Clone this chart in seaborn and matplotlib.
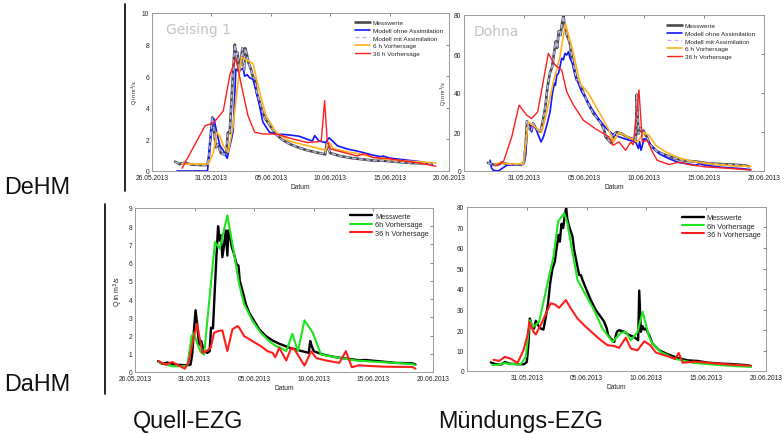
import matplotlib
matplotlib.use("Agg")
import matplotlib.pyplot as plt
from matplotlib.lines import Line2D
import seaborn as sns

# Zeit in Tagen ab 26.05.2013 00:00
tick_days = [0, 5, 10, 15, 20, 25]
tick_labels = ["26.05.2013", "31.05.2013", "05.06.2013", "10.06.2013", "15.06.2013", "20.06.2013"]

# ---------- Geising 1 (Quell-EZG) ----------
gei_t = [1.94, 2.3, 2.7, 3.4, 4.38, 4.66, 4.8, 4.94, 5.08, 5.22, 5.37, 5.56, 5.79, 6.07, 6.26, 6.38,
         6.54, 6.69, 6.83, 6.97, 7.1, 7.2, 7.33, 7.47, 7.61, 7.75, 7.84, 7.98, 8.12, 8.31, 8.51, 8.68,
         8.79, 9.02, 9.3, 9.58, 10.0, 10.42, 10.98, 11.54, 12.1, 12.97, 13.8, 14.58, 14.7, 14.83, 15.0,
         15.75, 16.86, 17.97, 18.8, 19.3, 20.47, 21.86, 23.25, 23.53]
gei_mess = [0.59, 0.44, 0.52, 0.40, 0.37, 0.40, 0.96, 2.25, 3.39, 2.6, 1.5, 1.7, 1.14, 1.05, 1.14, 2.43,
            2.4, 4.46, 6.3, 8.0, 7.2, 7.5, 6.3, 6.94, 7.77, 6.39, 7.77, 7.4, 6.85, 6.48, 5.93, 5.84,
            5.0, 4.46, 3.72, 3.26, 2.8, 2.34, 1.97, 1.73, 1.55, 1.33, 1.18, 1.05, 1.7, 1.42, 1.14,
            0.96, 0.81, 0.72, 0.64, 0.66, 0.59, 0.5, 0.48, 0.41]
gei_mit = gei_mess  # Modell mit Assimilation liegt auf den Messwerten

gei_ohne_t = [2.1, 4.67, 5.03, 5.22, 5.45, 5.72, 6.0, 6.33, 6.5, 6.69, 6.83, 7.06, 7.25, 7.45, 7.67, 7.8,
              8.0, 8.22, 8.5, 8.78, 9.06, 9.33, 9.89, 10.45, 11.56, 12.39, 13.1, 13.5, 13.7, 14.05, 14.6,
              14.9, 15.2, 15.6, 16.4, 17.5, 18.6, 19.3, 19.45, 20.0, 21.1, 22.5, 23.6]
gei_ohne = [0, 0, 2.9, 3.3, 2.45, 1.6, 1.3, 0.8, 1.4, 2.0, 2.55, 6.45, 6.35, 6.4, 6.5, 6.0,
            6.1, 5.9, 5.8, 5.0, 4.1, 3.1, 2.45, 2.35, 2.28, 2.2, 2.0, 1.9, 2.24, 1.9, 1.8,
            2.1, 1.9, 1.6, 1.4, 1.22, 1.0, 0.9, 0.95, 0.82, 0.72, 0.6, 0.44]

gei_6h_t = [2.53, 4.75, 5.17, 5.45, 5.72, 6.0, 6.42, 6.83, 7.17, 7.53, 8.5, 9.06, 9.6, 10.45, 11.56, 12.0,
            13.1, 14.2, 14.6, 14.9, 15.3, 16.4, 17.5, 18.6, 20.0, 21.4, 23.1, 23.9]
gei_6h = [0.44, 0.44, 1.18, 2.45, 2.2, 1.6, 1.18, 2.87, 5.2, 7.2, 6.8, 5.0, 3.5, 2.45, 1.9, 1.8,
          1.6, 1.4, 1.3, 1.8, 1.4, 1.22, 1.08, 0.86, 0.72, 0.63, 0.55, 0.5]

gei_36h_t = [2.53, 4.47, 5.17, 6.0, 6.56, 7.06, 7.53, 8.08, 8.64, 9.33, 10.45, 11.98, 13.1, 13.9, 14.25,
             14.53, 14.75, 15.03, 15.9, 17.25, 17.9, 18.6, 19.75, 21.1, 22.5, 23.9]
gei_36h = [0.17, 2.87, 3.04, 3.8, 6.1, 7.13, 5.4, 3.5, 2.45, 2.34, 2.34, 2.0, 1.8, 1.85, 1.9,
           4.45, 1.9, 1.4, 1.22, 0.95, 1.1, 0.85, 0.8, 0.65, 0.5, 0.3]

# DaHM-Vorhersagen Geising
gei_b6h_t = [2.0, 3.12, 4.38, 4.75, 4.94, 5.2, 5.5, 5.79, 6.71, 7.1, 7.75, 8.17, 8.74, 9.16, 9.86, 10.56,
             11.26, 11.83, 12.14, 12.69, 13.2, 13.67, 14.22, 14.92, 15.6, 16.86, 18.53, 20.47, 21.86,
             23.25, 23.53]
gei_b6h = [0.53, 0.31, 0.33, 1.97, 2.15, 1.6, 1.1, 0.96, 7.13, 6.76, 8.6, 7.03, 4.82, 3.72, 2.8, 2.15,
           1.69, 1.42, 1.36, 1.14, 2.1, 1.14, 2.84, 2.15, 0.96, 0.81, 0.63, 0.55, 0.5,
           0.44, 0.37]
gei_b36h_t = [2.0, 2.56, 3.12, 3.68, 4.19, 4.52, 4.94, 5.22, 5.37, 5.65, 5.98, 6.35, 6.63, 7.0, 7.33,
              7.75, 8.17, 8.6, 8.74, 9.16, 9.86, 10.56, 11.12, 11.54, 11.77, 12.1, 12.69, 13.11, 13.39,
              14.22, 14.78, 15.19, 16.03, 17.14, 17.69, 18.19, 18.8, 19.64, 21.03, 22.42, 23.25, 23.53]
gei_b36h = [0.59, 0.4, 0.55, 0.35, 0.18, 0.59, 1.97, 2.65, 2.06, 1.05, 1.14, 1.33, 2.15, 2.25, 2.28,
            1.14, 2.34, 2.52, 2.43, 1.97, 1.69, 1.42, 1.14, 1.05, 0.81, 1.33, 0.63, 1.33, 1.23,
            0.35, 1.14, 0.77, 0.63, 0.5, 1.14, 0.26, 0.37, 0.33, 0.29, 0.28, 0.28, 0.18]

# ---------- Dohna (Muendungs-EZG) ----------
doh_t = [1.99, 2.41, 2.82, 3.16, 3.52, 4.22, 4.78, 5.0, 5.14, 5.25, 5.42, 5.61, 5.75, 5.95, 6.17, 6.39,
         6.59, 6.78, 6.95, 7.15, 7.34, 7.51, 7.65, 7.76, 7.9, 8.04, 8.18, 8.29, 8.4, 8.54, 8.68, 8.82,
         8.96, 9.18, 9.38, 9.52, 9.66, 9.94, 10.35, 10.77, 11.19, 11.47, 11.69, 11.8, 12.03, 12.31,
         12.53, 12.72, 13.14, 13.56, 13.98, 14.31, 14.4, 14.54, 14.68, 14.82, 14.96, 15.23, 15.51,
         16.07, 16.77, 17.6, 18.44, 19.28, 20.11, 21.23, 22.35, 23.46, 23.74]
doh_mess = [4.2, 3.3, 3.1, 4.4, 3.6, 3.3, 3.3, 4.4, 13.4, 25.6, 22.3, 20.7, 24.5, 22.3, 20.7, 20.2,
            26.4, 33, 42.7, 50, 53.3, 60.7, 66.4, 63.1, 71.8, 69.7, 76.2, 79.4, 73.7, 70.5, 68, 65.6,
            59, 52.5, 46.8, 46.8, 44.4, 40.3, 34.6, 29.7, 26.4, 24, 20.7, 17.5, 15.8, 14.2,
            19.1, 19.9, 19.1, 17.5, 16.6, 15, 39.2, 19.1, 21.9, 20.2, 20.7, 17.5, 13.4,
            10.1, 8.2, 6.4, 5.2, 4.9, 4.1, 3.6, 3.3, 2.8, 2.4]
doh_mit = doh_mess

doh_ohne_t = [2.17, 2.3, 2.45, 2.87, 3.14, 3.56, 3.98, 4.95, 5.14, 5.31, 5.5, 5.64, 5.78, 5.95, 6.14,
              6.42, 6.62, 6.9, 7.17, 7.37, 7.45, 7.53, 7.62, 7.73, 7.87, 8.0, 8.14, 8.28, 8.42, 8.56,
              8.7, 8.84, 9.03, 9.25, 9.53, 9.81, 10.23, 10.64, 11.2, 11.75, 12.31, 12.92, 13.75, 14.31,
              14.53, 14.64, 14.75, 14.86, 15.0, 15.3, 15.7, 16.25, 17.08, 17.92, 18.75, 19.3, 19.58,
              20.14, 21.53, 23.2, 23.9]
doh_ohne = [5.5, 1.5, 0.3, 0, 1.2, 2.9, 3.3, 3.4, 8, 25, 23.5, 20, 24.3, 22.5, 19.2,
            14.9, 17.5, 23.5, 30.3, 39.8, 42.3, 45, 44, 49.2, 50, 53.5, 57.8, 57, 60.3, 59.5,
            61.2, 57.8, 55.2, 49.2, 45, 40.6, 36.3, 32, 26.9, 22.6, 19.2, 17.5, 15.8, 14.9,
            11.5, 15, 10.6, 13, 16.6, 15.8, 12.3, 8.9, 6.3, 4.3, 3.6, 2.9, 3.8,
            2.9, 1.9, 1.2, 0.7]

doh_6h_t = [2.59, 2.87, 3.5, 4.95, 5.37, 6.48, 6.9, 7.45, 8.0, 8.45, 9.06, 9.67, 10.37, 10.92, 11.48,
            12.08, 12.45, 12.92, 13.47, 14.03, 14.44, 15.0, 15.42, 15.97, 16.8, 17.92, 19.3, 20.7,
            22.36, 23.9]
doh_6h = [2.9, 4.1, 3.8, 3.6, 25.2, 20, 30.3, 45.8, 58.6, 75.5, 62, 44.9, 39.8, 33.8, 27.8,
          21, 15, 19.7, 18, 16.3, 14.9, 19.7, 18.3, 13.2, 9.8, 6.7, 4.6, 3.6,
          2.6, 2.4]

doh_36h_t = [2.59, 3.28, 3.98, 4.59, 5.23, 5.64, 6.14, 7.03, 7.59, 8.14, 8.56, 9.12, 9.95, 10.92, 11.62,
             12.08, 12.42, 12.92, 13.47, 13.89, 14.1, 14.58, 14.86, 15.28, 15.7, 16.1, 17.08, 17.92,
             18.75, 20.14, 21.8, 23.9]
doh_36h = [2.6, 4.6, 17.5, 33.8, 28.6, 26.9, 30.3, 60.3, 54.3, 51.8, 40.6, 33.8, 26, 21.8, 19.2,
           17.5, 13.2, 14.9, 10.6, 14.9, 13.5, 41.5, 14.9, 15.8, 9.8, 5.5, 3.3, 4.6,
           3.3, 2.1, 1.5, 0.5]

doh_b6h_t = [2.13, 2.7, 3.1, 3.66, 4.5, 4.92, 5.25, 5.53, 6.03, 6.73, 7.23, 7.62, 8.12, 8.4, 8.68, 9.24,
             9.94, 10.63, 11.33, 12.17, 12.86, 13.28, 13.7, 14.26, 14.68, 15.23, 15.51, 16.2, 17.33,
             19.0, 20.67, 22.35, 23.74]
doh_b6h = [2.9, 3.1, 3.9, 3.4, 3.3, 6.9, 24.8, 21.5, 24, 42.7, 55.8, 72.9, 77, 72.1, 62.3, 44.4,
           37, 29.7, 20.7, 14.2, 18.6, 19.1, 15, 19.1, 28.9, 16.6, 13.4, 9.3, 6.0,
           3.9, 3.1, 2.4, 2.0]
doh_b36h_t = [2.21, 2.69, 3.16, 3.66, 4.22, 4.72, 5.06, 5.22, 5.56, 5.75, 6.23, 6.73, 7.0, 7.34, 7.7,
              8.26, 8.68, 9.24, 9.8, 10.63, 11.19, 11.75, 12.31, 12.72, 13.28, 13.7, 14.26, 14.82,
              15.32, 15.79, 16.77, 17.4, 17.7, 18.05, 19.0, 20.39, 22.07, 23.68]
doh_b36h = [5.5, 4.9, 6.9, 6.0, 3.9, 10.1, 17.5, 24, 19.1, 17.8, 23.2, 29.7, 33, 32.5, 30.8,
            34.6, 30.5, 25.6, 22.3, 17.9, 15, 12.6, 12.2, 11.3, 16.3, 10.9, 10.1, 14.5,
            12.6, 9.0, 7.2, 5.9, 8.8, 4.0, 4.6, 3.9, 3.1, 2.6]

lab_top = ["Messwerte", "Modell ohne Assimilation", "Modell mit Assimilation",
           "6 h Vorhersage", "36 h Vorhersage"]
lab_bot = ["Messwerte", "6h Vorhersage", "36 h Vorhersage"]

sns.set_theme(style="white")
plt.rcParams['font.family'] = ['Liberation Sans', 'DejaVu Sans']

W, H = 784, 435
fig = plt.figure(figsize=(W / 100, H / 100), dpi=100)


def box(l, t, r, b):
    return [l / W, 1 - b / H, (r - l) / W, (b - t) / H]


def line(ax, t, v, **kw):
    sns.lineplot(x=t, y=v, ax=ax, estimator=None, sort=False, **kw)


def style(ax, xlim, ymax, yticks, hide_first, qlabel, qsize, qx):
    ax.set_xlim(*xlim)
    ax.set_ylim(0, ymax)
    ax.set_xticks(tick_days)
    labs = list(tick_labels)
    if hide_first:
        labs[0] = ""
    ax.set_xticklabels(labs)
    ax.set_yticks(yticks)
    ax.tick_params(direction="in", top=True, right=True, length=2.2, width=0.5,
                   labelsize=4.8, pad=2, colors="#555555", labelcolor="#222222")
    for s in ax.spines.values():
        s.set_color("#9a9a9a")
        s.set_linewidth(0.7)
    ax.set_xlabel("Datum", fontsize=4.8, color="#222222")
    ax.xaxis.set_label_coords(0.5, -0.075)
    if qlabel:
        ax.set_ylabel("Q in m$^3$/s", fontsize=qsize, color="#222222")
        ax.yaxis.set_label_coords(qx, 0.5)
    else:
        ax.set_ylabel("")


def top_panel(ax, t_m, mess, mit, t_o, ohne, t6, v6, t36, v36, name, nx, lx, ly):
    line(ax, t_m, mess, color="#4a4a4a", lw=1.9, label=lab_top[0])
    line(ax, t_o, ohne, color="#1414ff", lw=1.2, label=lab_top[1])
    line(ax, t_m, mit, color="#b9b9ec", lw=1.0, linestyle=(0, (3, 2)), label=lab_top[2])
    line(ax, t6, v6, color="#ffb21e", lw=1.2, label=lab_top[3])
    line(ax, t36, v36, color="#ff1e1e", lw=1.0, label=lab_top[4])
    ax.legend(loc="upper left", bbox_to_anchor=(lx, ly), frameon=False, fontsize=4.6,
              handlelength=2.3, handletextpad=0.5, labelspacing=0.33, borderpad=0,
              borderaxespad=0)
    ax.text(nx, 0.9, name, transform=ax.transAxes, fontsize=10, color="#c4c4c4",
            family="DejaVu Sans", va="center", ha="left")


def bottom_panel(ax, t_m, mess, t6, v6, t36, v36, lx, ly):
    line(ax, t_m, mess, color="black", lw=1.7, label=lab_bot[0])
    line(ax, t6, v6, color="#1ee61e", lw=1.5, label=lab_bot[1])
    line(ax, t36, v36, color="#ff1e1e", lw=1.5, label=lab_bot[2])
    ax.legend(loc="upper left", bbox_to_anchor=(lx, ly), frameon=False, fontsize=5.3,
              handlelength=3.0, handletextpad=0.4, labelspacing=0.17, borderpad=0,
              borderaxespad=0)


ax_tl = fig.add_axes(box(152, 14, 449, 172))
ax_tr = fig.add_axes(box(464, 16, 764, 172))
ax_bl = fig.add_axes(box(135, 209, 433, 373))
ax_br = fig.add_axes(box(467, 208, 766, 372))

top_panel(ax_tl, gei_t, gei_mess, gei_mit, gei_ohne_t, gei_ohne, gei_6h_t, gei_6h,
          gei_36h_t, gei_36h, "Geising 1", 0.047, 0.683, 0.956)
top_panel(ax_tr, doh_t, doh_mess, doh_mit, doh_ohne_t, doh_ohne, doh_6h_t, doh_6h,
          doh_36h_t, doh_36h, "Dohna", 0.033, 0.677, 0.949)
bottom_panel(ax_bl, gei_t, gei_mess, gei_b6h_t, gei_b6h, gei_b36h_t, gei_b36h, 0.721, 0.97)
bottom_panel(ax_br, doh_t, doh_mess, doh_b6h_t, doh_b6h, doh_b36h_t, doh_b36h, 0.718, 0.957)

style(ax_tl, (0, 24.75), 10, [0, 2, 4, 6, 8, 10], False, True, 4.0, -0.04)
style(ax_tr, (0, 25), 80, [0, 20, 40, 60, 80], True, True, 4.0, -0.05)
style(ax_bl, (0, 25), 9, list(range(10)), False, True, 5.0, -0.035)
style(ax_br, (0, 25), 80, list(range(0, 81, 10)), True, False, 5.0, -0.04)

# Trennlinien
fig.add_artist(Line2D([125 / W, 125 / W], [1 - 5 / H, 1 - 192 / H], color="black", lw=1.2))
fig.add_artist(Line2D([105 / W, 105 / W], [1 - 205 / H, 1 - 395 / H], color="black", lw=1.2))

big = dict(fontsize=16.8, color="#111111", va="center", ha="left")
fig.text(4 / W, 1 - 188 / H, "DeHM", **big)
fig.text(4 / W, 1 - 385 / H, "DaHM", **big)
fig.text(133 / W, 1 - 422 / H, "Quell-EZG", **big)
fig.text(438 / W, 1 - 422 / H, "Mündungs-EZG", **big)

fig.savefig("out.png", dpi=100)
